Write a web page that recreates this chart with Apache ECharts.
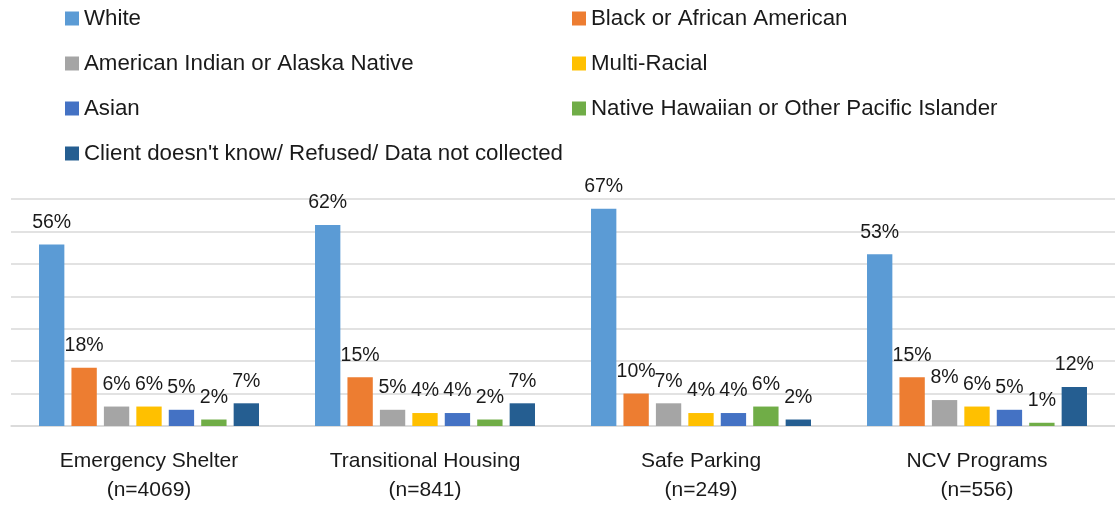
<!DOCTYPE html>
<html>
<head>
  <meta charset="utf-8">
  <title>Race by program type</title>
  <script src="https://cdn.jsdelivr.net/npm/echarts@6/dist/echarts.min.js"></script>
  <style>
    html, body { margin: 0; padding: 0; background: #fff; }
    #chart { width: 1115px; height: 505px; }
  </style>
</head>
<body>
<div id="chart"></div>
<script>
  // program categories (axis labels)
  var programs = ['Emergency Shelter\n(n=4069)', 'Transitional Housing\n(n=841)', 'Safe Parking\n(n=249)', 'NCV Programs\n(n=556)'];

  // percent of clients per race, one array per series
  var white = [56, 62, 67, 53];
  var black = [18, 15, 10, 15];
  var aian = [6, 5, 7, 8];
  var multi = [6, 4, 4, 6];
  var asian = [5, 4, 4, 5];
  var nhpi = [2, 2, 6, 1];
  var unknown = [7, 7, 2, 12];

  var yTicks = [0, 10, 20, 30, 40, 50, 60, 70];

  var names = ['White', 'Black or African American', 'American Indian or Alaska Native', 'Multi-Racial',
    'Asian', 'Native Hawaiian or Other Pacific Islander', "Client doesn't know/ Refused/ Data not collected"];
  var values = [white, black, aian, multi, asian, nhpi, unknown];
  var colors = ['#5B9BD5', '#ED7D31', '#A5A5A5', '#FFC000', '#4472C4', '#70AD47', '#255E91'];

  var font = 'Liberation Sans';
  var legendText = {fontFamily: font, fontSize: 22.3, color: '#1a1a1a', lineHeight: 22};

  var series = names.map(function (n, i) {
    return {
      name: n,
      type: 'bar',
      data: values[i],
      barGap: '28%',
      barCategoryGap: '20.3%',
      itemStyle: {color: colors[i]},
      label: {
        show: true,
        position: 'top',
        distance: 12,
        fontFamily: font,
        fontSize: 19.5,
        color: '#1a1a1a',
        formatter: '{c}%'
      }
    };
  });

  var chart = echarts.init(document.getElementById('chart'));
  chart.setOption({
    animation: false,
    color: colors,
    legend: [{
      orient: 'vertical',
      left: 60,
      top: 2.5,
      itemWidth: 14,
      itemHeight: 14,
      itemGap: 23,
      icon: 'rect',
      textStyle: legendText,
      data: [names[0], names[2], names[4], names[6]]
    }, {
      orient: 'vertical',
      left: 567,
      top: 2.5,
      itemWidth: 14,
      itemHeight: 14,
      itemGap: 23,
      icon: 'rect',
      textStyle: legendText,
      data: [names[1], names[3], names[5]]
    }],
    grid: {left: 11, right: 0, top: 199, bottom: 78, containLabel: false},
    xAxis: {
      type: 'category',
      data: programs,
      axisTick: {show: false},
      axisLine: {lineStyle: {color: '#d9d9d9', width: 1.5}},
      axisLabel: {
        fontFamily: font,
        fontSize: 21,
        color: '#1a1a1a',
        lineHeight: 29,
        margin: 21
      }
    },
    yAxis: {
      type: 'value',
      min: yTicks[0],
      max: yTicks[yTicks.length - 1],
      interval: 10,
      axisLabel: {show: false},
      axisLine: {show: false},
      axisTick: {show: false},
      splitLine: {lineStyle: {color: '#d9d9d9', width: 1.5}}
    },
    series: series
  });
</script>
</body>
</html>
